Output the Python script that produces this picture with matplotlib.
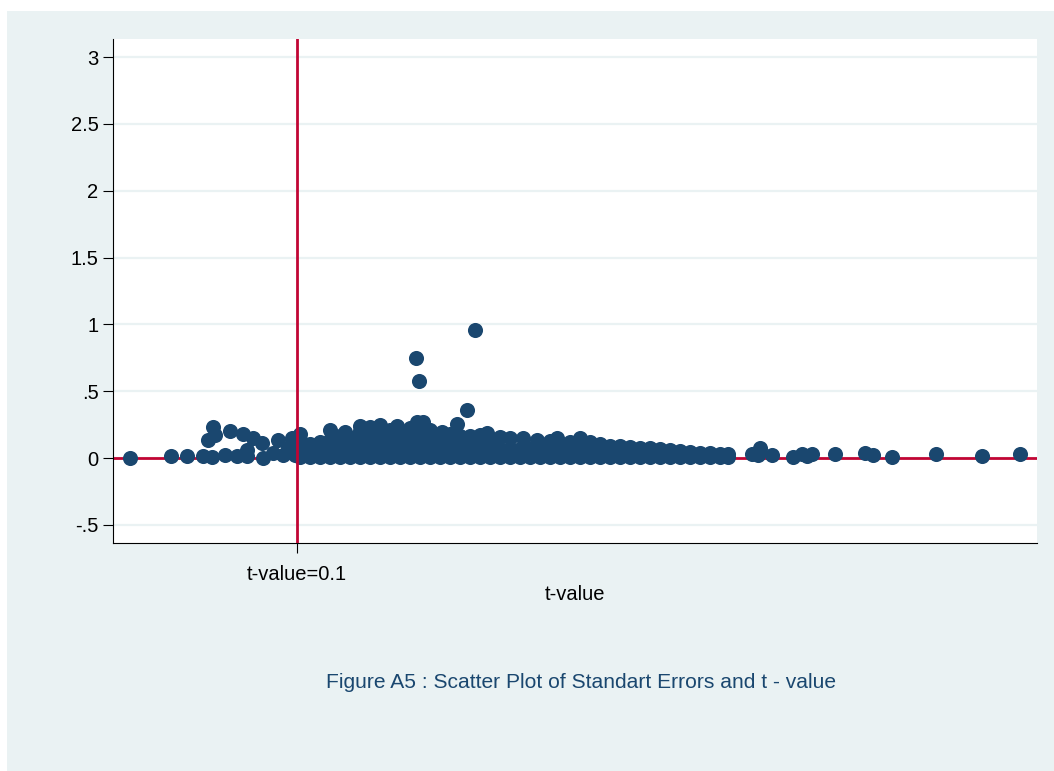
import matplotlib
matplotlib.use("Agg")
import matplotlib.pyplot as plt
from matplotlib.patches import Rectangle

plt.rcParams["font.family"] = ["Liberation Sans", "DejaVu Sans"]

# t-values (x) and standard errors (y)
t_value = [
    # sparse left tail
    -0.067, -0.026, -0.010, 0.006, 0.015, 0.011, 0.018, 0.016, 0.028, 0.033,
    0.040, 0.046, 0.050, 0.050, 0.056, 0.065, 0.066, 0.076, 0.081, 0.086,
    0.091, 0.095, 0.098,
    # large standard errors
    0.219, 0.222, 0.278, 0.270, 0.260,
    # lowest row of the main cluster
    0.103, 0.113, 0.123, 0.133, 0.143, 0.153, 0.163, 0.173, 0.183, 0.193,
    0.203, 0.213, 0.223, 0.233, 0.243, 0.253, 0.263, 0.273, 0.283, 0.293,
    0.303, 0.313, 0.323, 0.333, 0.343, 0.353, 0.363, 0.373, 0.383, 0.393,
    0.403, 0.413, 0.423, 0.433, 0.443, 0.453, 0.463, 0.473, 0.483, 0.493,
    0.503, 0.513, 0.523, 0.531,
    # second row
    0.103, 0.113, 0.123, 0.133, 0.143, 0.153, 0.163, 0.173, 0.183, 0.193,
    0.203, 0.213, 0.223, 0.233, 0.243, 0.253, 0.263, 0.273, 0.283, 0.293,
    0.303, 0.313, 0.323, 0.333, 0.343, 0.353, 0.363, 0.373, 0.383, 0.393,
    0.403, 0.413, 0.423, 0.433, 0.443, 0.453,
    # third row
    0.103, 0.133, 0.143, 0.163, 0.173, 0.183, 0.193, 0.203, 0.213, 0.223,
    0.233, 0.243, 0.253, 0.263, 0.273, 0.283, 0.293,
    # fourth row
    0.163, 0.173, 0.183, 0.203, 0.220, 0.226,
    # upper edge of the cluster
    0.103, 0.113, 0.123, 0.133, 0.143, 0.148, 0.153, 0.163, 0.173, 0.183,
    0.193, 0.200, 0.213, 0.220, 0.226, 0.233, 0.245, 0.253, 0.263, 0.273,
    0.283, 0.290, 0.303, 0.313, 0.326, 0.340, 0.353, 0.360, 0.373, 0.383,
    0.393, 0.403, 0.413, 0.423, 0.433, 0.443, 0.453, 0.463, 0.473, 0.483,
    0.493, 0.503, 0.513, 0.523, 0.531,
    # sparse right tail
    0.555, 0.563, 0.561, 0.575, 0.596, 0.605, 0.610, 0.615, 0.638, 0.668,
    0.676, 0.695, 0.739, 0.785, 0.823,
]

std_error = [
    0.000, 0.015, 0.015, 0.015, 0.007, 0.135, 0.172, 0.232, 0.022, 0.202,
    0.015, 0.180, 0.060, 0.015, 0.150, 0.112, 0.000, 0.037, 0.135, 0.022,
    0.075, 0.150, 0.022,
    0.749, 0.576, 0.958, 0.359, 0.254,
    0.007, 0.007, 0.007, 0.007, 0.007, 0.007, 0.007, 0.007, 0.007, 0.007,
    0.007, 0.007, 0.007, 0.007, 0.007, 0.007, 0.007, 0.007, 0.007, 0.007,
    0.007, 0.007, 0.007, 0.007, 0.007, 0.007, 0.007, 0.007, 0.007, 0.007,
    0.007, 0.007, 0.007, 0.007, 0.007, 0.007, 0.007, 0.007, 0.007, 0.007,
    0.007, 0.007, 0.007, 0.007,
    0.067, 0.067, 0.067, 0.067, 0.067, 0.067, 0.067, 0.067, 0.067, 0.067,
    0.067, 0.067, 0.067, 0.067, 0.067, 0.067, 0.067, 0.067, 0.067, 0.067,
    0.067, 0.067, 0.067, 0.067, 0.067, 0.067, 0.067, 0.067, 0.067, 0.067,
    0.067, 0.067, 0.067, 0.067, 0.067, 0.067,
    0.135, 0.135, 0.135, 0.135, 0.135, 0.135, 0.135, 0.135, 0.135, 0.135,
    0.135, 0.135, 0.135, 0.135, 0.135, 0.135, 0.135,
    0.202, 0.202, 0.202, 0.202, 0.202, 0.202,
    0.180, 0.105, 0.120, 0.210, 0.165, 0.195, 0.150, 0.240, 0.232, 0.247,
    0.210, 0.240, 0.225, 0.269, 0.269, 0.210, 0.195, 0.180, 0.165, 0.165,
    0.172, 0.187, 0.157, 0.150, 0.150, 0.135, 0.127, 0.150, 0.120, 0.150,
    0.120, 0.105, 0.090, 0.090, 0.082, 0.075, 0.075, 0.067, 0.060, 0.052,
    0.045, 0.037, 0.037, 0.030, 0.030,
    0.030, 0.075, 0.022, 0.022, 0.007, 0.030, 0.015, 0.030, 0.030, 0.037,
    0.022, 0.007, 0.030, 0.015, 0.030,
]

y_ticks = [-0.5, 0, 0.5, 1, 1.5, 2, 2.5, 3]
y_tick_labels = ["-.5", "0", ".5", "1", "1.5", "2", "2.5", "3"]
t_ref = 0.1

navy = "#1a476f"
cranberry = "#c10534"
bg = "#eaf2f3"

fig = plt.figure(figsize=(10.54, 7.71), dpi=100, facecolor="white")
fig.patches.append(Rectangle((7 / 1054, 0), 1 - 7 / 1054, 1 - 11 / 771,
                             transform=fig.transFigure, facecolor=bg,
                             edgecolor="none", zorder=-10))

ax = fig.add_axes([113 / 1054, (771 - 543) / 771, 924 / 1054, 504 / 771])
ax.set_facecolor("white")

ax.set_xlim(-0.084, 0.840)
ax.set_ylim(-0.636, 3.136)

for yt in y_ticks:
    ax.axhline(yt, color=bg, lw=1.6, zorder=1)

ax.axhline(0, color=cranberry, lw=2.0, zorder=2)
ax.scatter(t_value, std_error, s=118, color=navy, linewidths=0, zorder=3)
ax.axvline(t_ref, color=cranberry, lw=2.0, zorder=4)

ax.set_yticks(y_ticks)
ax.set_yticklabels(y_tick_labels)
ax.set_xticks([t_ref])
ax.set_xticklabels(["t-value=0.1"])
ax.tick_params(axis="both", length=7.5, width=0.8, labelsize=14.5,
               color="black", labelcolor="black")
ax.tick_params(axis="y", pad=3)
ax.tick_params(axis="x", pad=8)

for side in ("top", "right"):
    ax.spines[side].set_visible(False)
for side in ("left", "bottom"):
    ax.spines[side].set_linewidth(0.8)
    ax.spines[side].set_color("black")

ax.set_xlabel("t-value", fontsize=14.5, labelpad=1)

fig.text(581 / 1054, 1 - 682 / 771,
         "Figure A5 : Scatter Plot of Standart Errors and t - value",
         ha="center", va="center", fontsize=15.1, color=navy)

fig.savefig("out.png", dpi=100, facecolor=fig.get_facecolor())
